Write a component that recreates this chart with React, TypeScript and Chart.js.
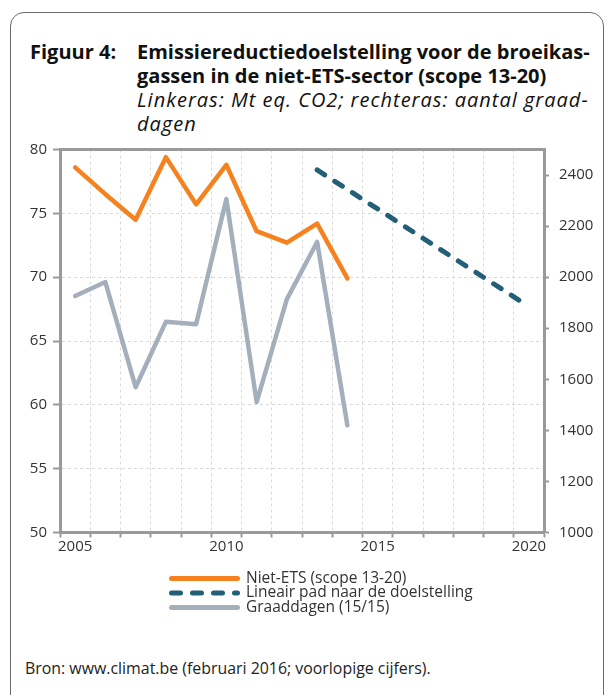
import React, { useEffect, useRef } from 'react';
import { Chart, registerables } from 'chart.js';

Chart.register(...registerables);

// ---- data ----
const years = ['2005', '2006', '2007', '2008', '2009', '2010', '2011', '2012', '2013', '2014', '2015', '2016', '2017', '2018', '2019', '2020'];
const labeledYears = ['2005', '2010', '2015', '2020'];
// Mt eq. CO2 (left axis)
const nietEts = [78.6, 76.5, 74.5, 79.4, 75.7, 78.8, 73.6, 72.7, 74.2, 69.9, null, null, null, null, null, null];
// Mt eq. CO2 (left axis): linear path to the target, 2013 -> 2020
const lineairPad = [null, null, null, null, null, null, null, null, 78.4, null, null, null, null, null, null, 67.7];
// degree days (right axis)
const graaddagen = [1926, 1981, 1569, 1825, 1816, 2306, 1511, 1914, 2138, 1420, null, null, null, null, null, null];

const leftTicks = [50, 55, 60, 65, 70, 75, 80];
const rightTicks = [1000, 1200, 1400, 1600, 1800, 2000, 2200, 2400];

const labelNiet = 'Niet-ETS (scope 13-20)';
const labelPad = 'Lineair pad naar de doelstelling';
const labelGraad = 'Graaddagen (15/15)';

const FONT = "'Open Sans', sans-serif";
const AXIS = '#9a9a9a';
const GRID = '#d9d9d9';
const TEXT = '#333333';

const stackLegend = {
  id: 'stackLegend',
  afterDraw(chart: any) {
    const { ctx, chartArea } = chart;
    const x0 = 169;
    const x1 = 240;
    const tx = 246;
    const yStart = chartArea.bottom + 46;
    const step = 14.5;
    ctx.save();
    chart.data.datasets.forEach((ds: any, i: number) => {
      const y = yStart + i * step;
      ctx.beginPath();
      ctx.lineWidth = 5;
      ctx.lineCap = 'round';
      ctx.strokeStyle = ds.borderColor;
      ctx.setLineDash(ds.borderDash || []);
      ctx.moveTo(x0 + 2.5, y);
      ctx.lineTo(x1 - 2.5, y);
      ctx.stroke();
      ctx.setLineDash([]);
      ctx.fillStyle = TEXT;
      ctx.font = `15.5px ${FONT}`;
      ctx.textBaseline = 'middle';
      ctx.textAlign = 'left';
      ctx.fillText(ds.label, tx, y);
    });
    ctx.restore();
  },
};

function ChartBox() {
  const ref = useRef<HTMLCanvasElement | null>(null);
  useEffect(() => {
    if (!ref.current) return;
    const chart = new Chart(ref.current, {
      type: 'line',
      data: {
        labels: years,
        datasets: [
          {
            label: labelNiet,
            data: nietEts,
            yAxisID: 'y',
            borderColor: '#f5821f',
            borderWidth: 4.5,
            pointRadius: 0,
            borderCapStyle: 'round',
            borderJoinStyle: 'round',
            tension: 0,
            order: 1,
          },
          {
            label: labelPad,
            data: lineairPad,
            yAxisID: 'y',
            borderColor: '#235f77',
            borderWidth: 5,
            borderDash: [9, 12],
            borderCapStyle: 'round',
            pointRadius: 0,
            spanGaps: true,
            tension: 0,
            order: 0,
          },
          {
            label: labelGraad,
            data: graaddagen,
            yAxisID: 'y1',
            borderColor: '#a4afbc',
            borderWidth: 4.5,
            pointRadius: 0,
            borderCapStyle: 'round',
            borderJoinStyle: 'round',
            tension: 0,
            order: 2,
          },
        ],
      },
      options: {
        responsive: false,
        animation: false,
        events: [],
        layout: { padding: { top: 19.5, bottom: 67.5, left: 0, right: 0 } },
        plugins: { legend: { display: false }, tooltip: { enabled: false } },
        scales: {
          x: {
            type: 'category',
            offset: true,
            grid: {
              offset: true,
              color: GRID,
              lineWidth: 1,
              tickColor: AXIS,
              tickWidth: 2,
              tickLength: 5,
            },
            border: { display: true, color: AXIS, width: 3, dash: [3, 3] },
            ticks: {
              autoSkip: false,
              maxRotation: 0,
              padding: 0,
              color: TEXT,
              font: { family: FONT, size: 15 },
              callback: (_v: any, i: number) => (labeledYears.includes(years[i]) ? years[i] : ''),
            },
            afterFit: (s: any) => {
              s.height = 30;
            },
          },
          y: {
            type: 'linear',
            position: 'left',
            min: 50,
            max: 80,
            afterBuildTicks: (s: any) => {
              s.ticks = leftTicks.map((v) => ({ value: v }));
            },
            grid: {
              color: (c: any) => (c.tick && c.tick.value === 80 ? AXIS : GRID),
              lineWidth: (c: any) => (c.tick && c.tick.value === 80 ? 3 : 1),
              tickColor: AXIS,
              tickWidth: 2,
              tickLength: 7,
            },
            border: {
              display: true,
              color: AXIS,
              width: 3,
              dash: (c: any) => (c.tick && c.tick.value === 80 ? [] : [3, 3]),
            },
            ticks: {
              padding: 6,
              color: TEXT,
              font: { family: FONT, size: 15 },
              callback: (v: any) => String(v),
            },
            afterFit: (s: any) => {
              s.width = 60;
            },
          },
          y1: {
            type: 'linear',
            position: 'right',
            min: 1000,
            max: 2500,
            afterBuildTicks: (s: any) => {
              s.ticks = rightTicks.map((v) => ({ value: v }));
            },
            grid: {
              drawOnChartArea: false,
              tickColor: AXIS,
              tickWidth: 2,
              tickLength: 5,
            },
            border: { display: true, color: AXIS, width: 3 },
            ticks: {
              padding: 10,
              color: TEXT,
              font: { family: FONT, size: 15 },
              callback: (v: any) => String(v),
            },
            afterFit: (s: any) => {
              s.width = 61;
            },
          },
        },
      },
      plugins: [stackLegend],
    } as any);
    return () => chart.destroy();
  }, []);
  return <canvas ref={ref} width={605} height={500} style={{ position: 'absolute', left: 0, top: 130, width: 605, height: 500 }} />;
}

export default function App() {
  return (
    <div style={{ position: 'absolute', left: 0, top: 0, width: 605, height: 695, overflow: 'hidden', background: '#fff', fontFamily: FONT, color: '#111' }}>
      <div
        style={{
          position: 'absolute',
          left: 10,
          top: 12,
          width: 594,
          height: 700,
          boxSizing: 'border-box',
          border: '1px solid #6b6b6b',
          borderRadius: 14,
        }}
      />
      <div style={{ position: 'absolute', left: 30, top: 40, fontWeight: 700, fontSize: 20, lineHeight: '24px', whiteSpace: 'nowrap' }}>Figuur 4:</div>
      <div style={{ position: 'absolute', left: 137, top: 40, fontSize: 20, lineHeight: '24px', whiteSpace: 'nowrap' }}>
        <div style={{ fontWeight: 700 }}>Emissiereductiedoelstelling voor de broeikas-</div>
        <div style={{ fontWeight: 700 }}>gassen in de niet-ETS-sector (scope 13-20)</div>
        <div style={{ fontStyle: 'italic', letterSpacing: 1 }}>Linkeras: Mt eq. CO2; rechteras: aantal graad-</div>
        <div style={{ fontStyle: 'italic', letterSpacing: 1 }}>dagen</div>
      </div>
      <ChartBox />
      <div style={{ position: 'absolute', left: 25, top: 658, fontSize: 15.9, lineHeight: '20px', color: '#222', whiteSpace: 'nowrap' }}>
        Bron: www.climat.be (februari 2016; voorlopige cijfers).
      </div>
    </div>
  );
}
